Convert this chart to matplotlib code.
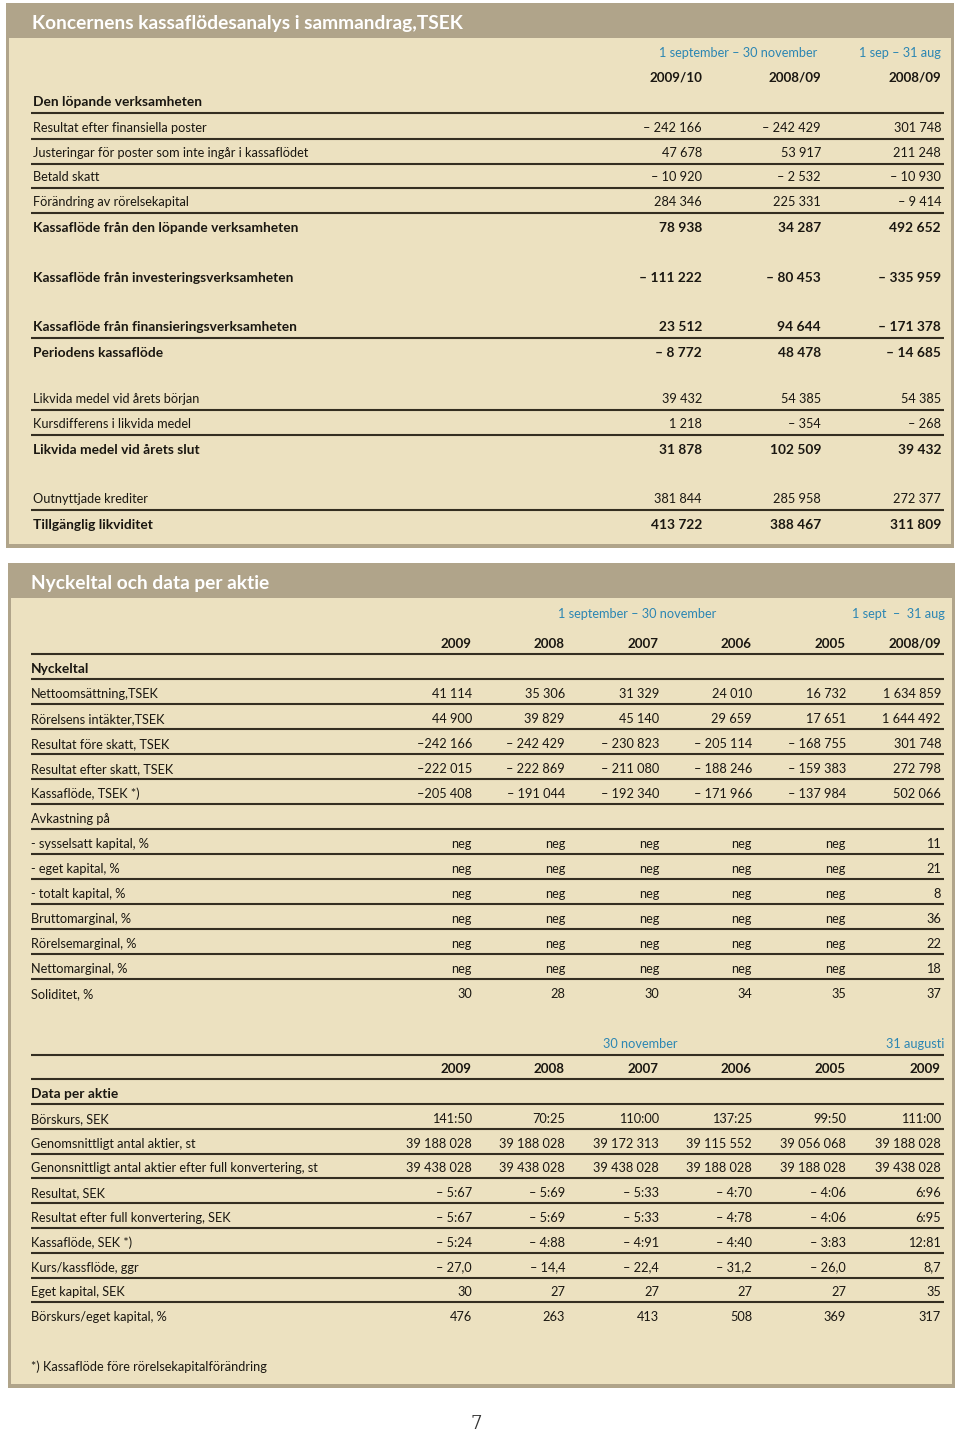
import matplotlib
matplotlib.use("Agg")
from matplotlib import pyplot as plt
from matplotlib.patches import Rectangle

plt.rcParams['font.family'] = ['Lato', 'DejaVu Sans']

# ---- data: kassaflödesanalys ----
cf_title = "Koncernens kassaflödesanalys i sammandrag,TSEK"
cf_period_a = "1 september – 30 november"
cf_period_b = "1 sep – 31 aug"
cf_years = ["2009/10", "2008/09", "2008/09"]
cf_labels = [
    "Den löpande verksamheten",
    "Resultat efter finansiella poster",
    "Justeringar för poster som inte ingår i kassaflödet",
    "Betald skatt",
    "Förändring av rörelsekapital",
    "Kassaflöde från den löpande verksamheten",
    "Kassaflöde från investeringsverksamheten",
    "Kassaflöde från finansieringsverksamheten",
    "Periodens kassaflöde",
    "Likvida medel vid årets början",
    "Kursdifferens i likvida medel",
    "Likvida medel vid årets slut",
    "Outnyttjade krediter",
    "Tillgänglig likviditet",
]
cf_bold = [True, False, False, False, False, True, True, True, True,
           False, False, True, False, True]
cf_2009_10 = ["", "– 242 166", "47 678", "– 10 920", "284 346", "78 938",
              "– 111 222", "23 512", "– 8 772", "39 432", "1 218", "31 878",
              "381 844", "413 722"]
cf_2008_09 = ["", "– 242 429", "53 917", "– 2 532", "225 331", "34 287",
              "– 80 453", "94 644", "48 478", "54 385", "– 354", "102 509",
              "285 958", "388 467"]
cf_helar = ["", "301 748", "211 248", "– 10 930", "– 9 414", "492 652",
            "– 335 959", "– 171 378", "– 14 685", "54 385", "– 268", "39 432",
            "272 377", "311 809"]

# ---- data: nyckeltal ----
nk_title = "Nyckeltal och data per aktie"
nk_period_a = "1 september – 30 november"
nk_period_b = "1 sept  –  31 aug"
nk_years = ["2009", "2008", "2007", "2006", "2005", "2008/09"]
nk_labels = [
    "Nyckeltal",
    "Nettoomsättning,TSEK",
    "Rörelsens intäkter,TSEK",
    "Resultat före skatt, TSEK",
    "Resultat efter skatt, TSEK",
    "Kassaflöde, TSEK *)",
    "Avkastning på",
    "- sysselsatt kapital, %",
    "- eget kapital, %",
    "- totalt kapital, %",
    "Bruttomarginal, %",
    "Rörelsemarginal, %",
    "Nettomarginal, %",
    "Soliditet, %",
]
nk_values = [
    [],
    ["41 114", "35 306", "31 329", "24 010", "16 732", "1 634 859"],
    ["44 900", "39 829", "45 140", "29 659", "17 651", "1 644 492"],
    ["–242 166", "– 242 429", "– 230 823", "– 205 114", "– 168 755", "301 748"],
    ["–222 015", "– 222 869", "– 211 080", "– 188 246", "– 159 383", "272 798"],
    ["–205 408", "– 191 044", "– 192 340", "– 171 966", "– 137 984", "502 066"],
    [],
    ["neg", "neg", "neg", "neg", "neg", "11"],
    ["neg", "neg", "neg", "neg", "neg", "21"],
    ["neg", "neg", "neg", "neg", "neg", "8"],
    ["neg", "neg", "neg", "neg", "neg", "36"],
    ["neg", "neg", "neg", "neg", "neg", "22"],
    ["neg", "neg", "neg", "neg", "neg", "18"],
    ["30", "28", "30", "34", "35", "37"],
]

# ---- data: data per aktie ----
pa_period_a = "30 november"
pa_period_b = "31 augusti"
pa_years = ["2009", "2008", "2007", "2006", "2005", "2009"]
pa_labels = [
    "Data per aktie",
    "Börskurs, SEK",
    "Genomsnittligt antal aktier, st",
    "Genonsnittligt antal aktier efter full konvertering, st",
    "Resultat, SEK",
    "Resultat efter full konvertering, SEK",
    "Kassaflöde, SEK *)",
    "Kurs/kassflöde, ggr",
    "Eget kapital, SEK",
    "Börskurs/eget kapital, %",
]
pa_values = [
    [],
    ["141:50", "70:25", "110:00", "137:25", "99:50", "111:00"],
    ["39 188 028", "39 188 028", "39 172 313", "39 115 552", "39 056 068", "39 188 028"],
    ["39 438 028", "39 438 028", "39 438 028", "39 188 028", "39 188 028", "39 438 028"],
    ["– 5:67", "– 5:69", "– 5:33", "– 4:70", "– 4:06", "6:96"],
    ["– 5:67", "– 5:69", "– 5:33", "– 4:78", "– 4:06", "6:95"],
    ["– 5:24", "– 4:88", "– 4:91", "– 4:40", "– 3:83", "12:81"],
    ["– 27,0", "– 14,4", "– 22,4", "– 31,2", "– 26,0", "8,7"],
    ["30", "27", "27", "27", "27", "35"],
    ["476", "263", "413", "508", "369", "317"],
]
footnote = "*) Kassaflöde före rörelsekapitalförändring"

# ---- style ----
BORDER = "#b0a48a"
BODY = "#ece1c0"
INK = "#1a1711"
RULE = "#342e21"
BLUE = "#2c86b3"
FS = 9.2
FSB = 9.9

fig = plt.figure(figsize=(9.6, 14.32), dpi=100)
ax = fig.add_axes([0, 0, 1, 1])
ax.set_xlim(0, 960)
ax.set_ylim(1432, 0)
ax.axis('off')


def panel(x0, y0, x1, y1, bar_h, title, tx):
    ax.add_patch(Rectangle((x0, y0), x1 - x0, y1 - y0, color=BORDER, lw=0))
    ax.add_patch(Rectangle((x0 + 3, y0 + bar_h), x1 - x0 - 6, y1 - y0 - bar_h - 4,
                           color=BODY, lw=0))
    ax.text(tx, y0 + bar_h / 2 + 1, title, color="white", fontsize=13.8,
            fontweight="bold", va="center_baseline", ha="left")


def rule(y, x0=31, x1=944):
    ax.plot([x0, x1], [y, y], color=RULE, lw=1.5, solid_capstyle="butt")


def row(y, label, values, cols, bold=False, lx=33):
    w = "bold" if bold else "normal"
    fs = FSB if bold else FS
    ax.text(lx, y, label, fontsize=fs, fontweight=w, color=INK,
            va="center_baseline", ha="left")
    for x, v in zip(cols, values):
        ax.text(x, y, v, fontsize=fs, fontweight=w, color=INK,
                va="center_baseline", ha="right")


# ---------- panel 1 ----------
panel(6, 3, 954, 548, 35, cf_title, 32)
cf_cols = [702, 821, 941]
ax.text(738, 52, cf_period_a, fontsize=9.2, color=BLUE, ha="center", va="center_baseline")
ax.text(941, 52, cf_period_b, fontsize=9.2, color=BLUE, ha="right", va="center_baseline")
for x, yr in zip(cf_cols, cf_years):
    ax.text(x, 77, yr, fontsize=9.6, fontweight="bold", color=INK, ha="right",
            va="center_baseline")

cf_rows_y = [101, 127, 152, 176, 201, 227, 277, 326, 352, 398, 423, 449, 498, 524]
cf_rule_after = [0, 1, 2, 3, 4, 7, 9, 10, 12]
for i, lab in enumerate(cf_labels):
    vals = [cf_2009_10[i], cf_2008_09[i], cf_helar[i]]
    row(cf_rows_y[i], lab, vals, cf_cols, bold=cf_bold[i])
    if i in cf_rule_after:
        rule(cf_rows_y[i] + 12)

# ---------- panel 2 ----------
panel(8, 563, 955, 1388, 35, nk_title, 31)
nk_cols = [472, 565, 659, 752, 846, 941]
ax.text(637, 613, nk_period_a, fontsize=9.2, color=BLUE, ha="center", va="center_baseline")
ax.text(945, 613, nk_period_b, fontsize=9.2, color=BLUE, ha="right", va="center_baseline")
for x, yr in zip(nk_cols, nk_years):
    ax.text(x, 643, yr, fontsize=9.6, fontweight="bold", color=INK, ha="right",
            va="center_baseline")
rule(654)

nk_y0 = 668
for i, lab in enumerate(nk_labels):
    y = nk_y0 + 25 * i
    row(y, lab, nk_values[i], nk_cols, bold=(i == 0), lx=31)
    if i < len(nk_labels) - 1:
        rule(y + 11)

# data per aktie
ax.text(640, 1043, pa_period_a, fontsize=9.2, color=BLUE, ha="center", va="center_baseline")
ax.text(944, 1043, pa_period_b, fontsize=9.2, color=BLUE, ha="right", va="center_baseline")
rule(1055)
for x, yr in zip(nk_cols, pa_years):
    ax.text(x, 1068, yr, fontsize=9.6, fontweight="bold", color=INK, ha="right",
            va="center_baseline")
rule(1079)

pa_y0 = 1093
for i, lab in enumerate(pa_labels):
    y = pa_y0 + 24.8 * i
    row(y, lab, pa_values[i], nk_cols, bold=(i == 0), lx=31)
    if i < len(pa_labels) - 1:
        rule(y + 11)

ax.text(31, 1366, footnote, fontsize=FS, color=INK, ha="left", va="center_baseline")

ax.text(476, 1422, "7", fontsize=13, color="#333333", ha="center",
        va="center_baseline", family="DejaVu Serif")

fig.savefig("out.png", dpi=100)
